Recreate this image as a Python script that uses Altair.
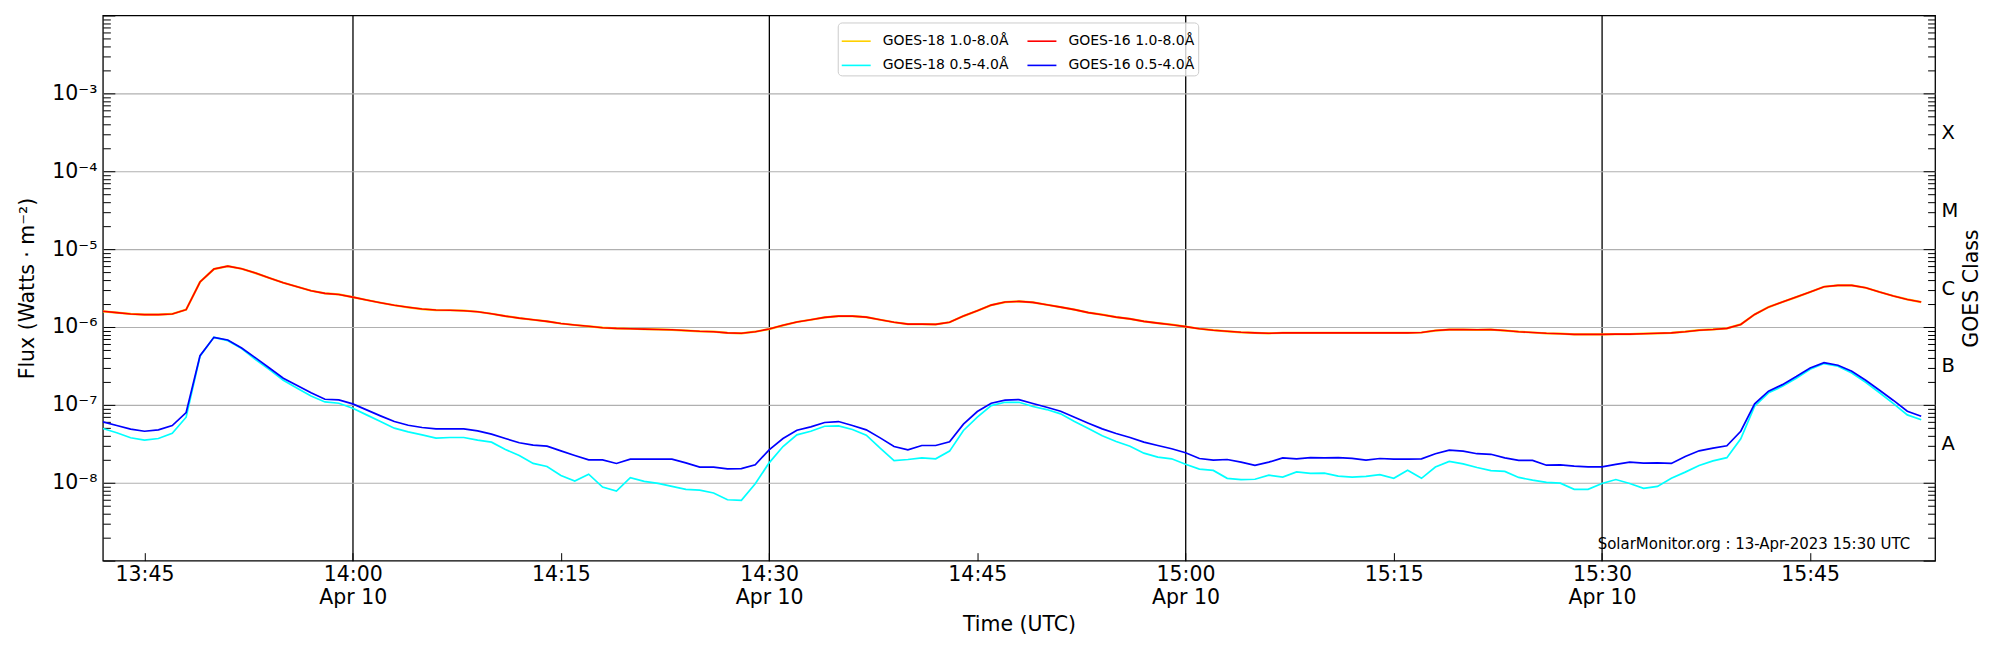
import json
import altair as alt
import pandas as pd

# ---------------- data (1-minute cadence from 13:42 UTC) ----------------
start_time = "13:42"
date_str = "2023-04-10"

goes16_long = [
    1.59e-6, 1.53e-6, 1.47e-6, 1.44e-6, 1.44e-6, 1.47e-6, 1.67e-6, 3.78e-6, 5.54e-6, 6.05e-6,
    5.60e-6, 4.92e-6, 4.25e-6, 3.70e-6, 3.29e-6, 2.92e-6, 2.70e-6, 2.62e-6, 2.42e-6, 2.22e-6,
    2.05e-6, 1.90e-6, 1.79e-6, 1.70e-6, 1.65e-6, 1.64e-6, 1.62e-6, 1.57e-6, 1.48e-6, 1.38e-6,
    1.30e-6, 1.24e-6, 1.18e-6, 1.11e-6, 1.06e-6, 1.02e-6, 9.8e-7, 9.6e-7, 9.5e-7, 9.4e-7,
    9.3e-7, 9.2e-7, 9.0e-7, 8.8e-7, 8.7e-7, 8.4e-7, 8.3e-7, 8.7e-7, 9.4e-7, 1.05e-6,
    1.16e-6, 1.24e-6, 1.33e-6, 1.38e-6, 1.38e-6, 1.34e-6, 1.24e-6, 1.15e-6, 1.09e-6, 1.09e-6,
    1.08e-6, 1.15e-6, 1.38e-6, 1.62e-6, 1.91e-6, 2.09e-6, 2.13e-6, 2.07e-6, 1.93e-6, 1.80e-6,
    1.67e-6, 1.53e-6, 1.44e-6, 1.34e-6, 1.27e-6, 1.18e-6, 1.12e-6, 1.07e-6, 1.01e-6, 9.5e-7,
    9.1e-7, 8.8e-7, 8.55e-7, 8.4e-7, 8.3e-7, 8.4e-7, 8.4e-7, 8.4e-7, 8.4e-7, 8.4e-7,
    8.4e-7, 8.4e-7, 8.4e-7, 8.4e-7, 8.4e-7, 8.5e-7, 9.0e-7, 9.25e-7, 9.25e-7, 9.2e-7,
    9.25e-7, 9.0e-7, 8.7e-7, 8.5e-7, 8.3e-7, 8.2e-7, 8.05e-7, 8.05e-7, 8.05e-7, 8.1e-7,
    8.1e-7, 8.2e-7, 8.3e-7, 8.4e-7, 8.7e-7, 9.1e-7, 9.3e-7, 9.6e-7, 1.08e-6, 1.45e-6,
    1.80e-6, 2.09e-6, 2.42e-6, 2.81e-6, 3.29e-6, 3.42e-6, 3.42e-6, 3.19e-6, 2.81e-6, 2.50e-6,
    2.26e-6, 2.09e-6,
]
# GOES-18 1-8 A lies under the GOES-16 1-8 A curve in the picture
goes18_long = list(goes16_long)

goes16_short = [
    6.05e-8, 5.43e-8, 4.88e-8, 4.59e-8, 4.78e-8, 5.43e-8, 7.97e-8, 4.28e-7, 7.37e-7, 6.81e-7,
    5.38e-7, 4.01e-7, 2.98e-7, 2.20e-7, 1.77e-7, 1.43e-7, 1.18e-7, 1.16e-7, 1.03e-7, 8.63e-8,
    7.23e-8, 6.11e-8, 5.48e-8, 5.12e-8, 4.92e-8, 4.92e-8, 4.92e-8, 4.64e-8, 4.21e-8, 3.70e-8,
    3.26e-8, 3.04e-8, 2.95e-8, 2.57e-8, 2.24e-8, 1.97e-8, 1.97e-8, 1.77e-8, 2.01e-8, 2.01e-8,
    2.01e-8, 2.01e-8, 1.80e-8, 1.59e-8, 1.59e-8, 1.51e-8, 1.52e-8, 1.70e-8, 2.65e-8, 3.70e-8,
    4.73e-8, 5.22e-8, 5.94e-8, 6.11e-8, 5.43e-8, 4.78e-8, 3.77e-8, 2.92e-8, 2.65e-8, 3.01e-8,
    3.01e-8, 3.36e-8, 5.65e-8, 8.22e-8, 1.05e-7, 1.15e-7, 1.17e-7, 1.04e-7, 9.33e-8, 8.29e-8,
    6.95e-8, 5.82e-8, 4.92e-8, 4.29e-8, 3.81e-8, 3.32e-8, 3.01e-8, 2.73e-8, 2.43e-8, 2.05e-8,
    1.95e-8, 1.99e-8, 1.84e-8, 1.67e-8, 1.84e-8, 2.09e-8, 2.03e-8, 2.10e-8, 2.09e-8, 2.10e-8,
    2.06e-8, 1.95e-8, 2.05e-8, 2.01e-8, 2.01e-8, 2.03e-8, 2.36e-8, 2.62e-8, 2.55e-8, 2.36e-8,
    2.32e-8, 2.09e-8, 1.94e-8, 1.94e-8, 1.68e-8, 1.70e-8, 1.64e-8, 1.60e-8, 1.60e-8, 1.72e-8,
    1.84e-8, 1.79e-8, 1.80e-8, 1.77e-8, 2.18e-8, 2.57e-8, 2.78e-8, 2.98e-8, 4.59e-8, 1.03e-7,
    1.50e-7, 1.82e-7, 2.31e-7, 2.98e-7, 3.49e-7, 3.23e-7, 2.70e-7, 2.07e-7, 1.54e-7, 1.14e-7,
    8.29e-8, 7.16e-8,
]

goes18_short = [
    4.98e-8, 4.38e-8, 3.78e-8, 3.52e-8, 3.70e-8, 4.33e-8, 6.95e-8, 4.21e-7, 7.37e-7, 6.68e-7,
    5.28e-7, 3.81e-7, 2.84e-7, 2.07e-7, 1.64e-7, 1.30e-7, 1.09e-7, 1.05e-7, 9.06e-8, 7.44e-8,
    6.11e-8, 5.02e-8, 4.51e-8, 4.12e-8, 3.74e-8, 3.81e-8, 3.81e-8, 3.52e-8, 3.32e-8, 2.67e-8,
    2.24e-8, 1.77e-8, 1.62e-8, 1.24e-8, 1.05e-8, 1.29e-8, 8.80e-9, 7.81e-9, 1.16e-8, 1.04e-8,
    9.80e-9, 8.97e-9, 8.22e-9, 8.05e-9, 7.38e-9, 6.05e-9, 5.94e-9, 9.71e-9, 1.80e-8, 2.92e-8,
    4.12e-8, 4.59e-8, 5.32e-8, 5.38e-8, 4.83e-8, 4.08e-8, 2.78e-8, 1.93e-8, 1.99e-8, 2.09e-8,
    2.03e-8, 2.55e-8, 4.69e-8, 6.95e-8, 9.80e-8, 1.08e-7, 1.08e-7, 9.52e-8, 8.71e-8, 7.67e-8,
    6.11e-8, 4.98e-8, 4.01e-8, 3.39e-8, 2.95e-8, 2.40e-8, 2.13e-8, 2.03e-8, 1.73e-8, 1.50e-8,
    1.44e-8, 1.14e-8, 1.10e-8, 1.11e-8, 1.25e-8, 1.18e-8, 1.38e-8, 1.32e-8, 1.33e-8, 1.22e-8,
    1.18e-8, 1.21e-8, 1.27e-8, 1.14e-8, 1.45e-8, 1.14e-8, 1.59e-8, 1.88e-8, 1.75e-8, 1.57e-8,
    1.43e-8, 1.40e-8, 1.17e-8, 1.08e-8, 1.01e-8, 9.9e-9, 8.22e-9, 8.22e-9, 9.80e-9, 1.10e-8,
    9.80e-9, 8.46e-9, 8.97e-9, 1.14e-8, 1.37e-8, 1.67e-8, 1.91e-8, 2.10e-8, 3.66e-8, 9.61e-8,
    1.43e-7, 1.73e-7, 2.20e-7, 2.86e-7, 3.39e-7, 3.13e-7, 2.57e-7, 1.95e-7, 1.43e-7, 1.04e-7,
    7.44e-8, 6.43e-8,
]

# legend order (column-wise): GOES-18 entries in the first column, GOES-16 in the second
series_names = ["GOES-18 1.0-8.0Å", "GOES-18 0.5-4.0Å", "GOES-16 1.0-8.0Å", "GOES-16 0.5-4.0Å"]
series_colors = ["#ffd000", "#00ffff", "#ff0000", "#0000ff"]

tick_times = ["13:45", "14:00", "14:15", "14:30", "14:45", "15:00", "15:15", "15:30", "15:45"]
marked_times = ["14:00", "14:30", "15:00", "15:30"]
date_label = "Apr 10"
x_domain_times = ["13:42", "15:54"]

y_tick_labels = ["10⁻⁸", "10⁻⁷", "10⁻⁶", "10⁻⁵", "10⁻⁴", "10⁻³"]
class_labels = ["A", "B", "C", "M", "X"]
y_domain = [1e-9, 1e-2]

y_title = "Flux (Watts · m⁻²)"
x_title = "Time (UTC)"
right_title = "GOES Class"
annotation = "SolarMonitor.org : 13-Apr-2023 15:30 UTC"

# ---------------- table ----------------
h0, m0 = map(int, start_time.split(":"))


def iso(i):
    t = h0 * 60 + m0 + i
    return f"{date_str}T{t // 60:02d}:{t % 60:02d}:00Z"


series_values = {
    "GOES-18 1.0-8.0Å": goes18_long,
    "GOES-18 0.5-4.0Å": goes18_short,
    "GOES-16 1.0-8.0Å": goes16_long,
    "GOES-16 0.5-4.0Å": goes16_short,
}
rows = []
for name, vals in series_values.items():
    for i, v in enumerate(vals):
        rows.append({"time": iso(i), "flux": v, "series": name})
df = pd.DataFrame(rows)


def dt(hhmm):
    h, m = map(int, hhmm.split(":"))
    return alt.DateTime(year=2023, month=4, date=10, hours=h, minutes=m, utc=True)


W, H = 1835, 546
FONT = "DejaVu Sans"

xscale = alt.Scale(type="utc", domain=[dt(t) for t in x_domain_times], nice=False)
yscale = alt.Scale(type="log", domain=y_domain, nice=False)
cscale = alt.Scale(domain=series_names, range=series_colors)

decades = [10.0 ** e for e in range(-8, -2)]
all_decades = [10.0 ** e for e in range(-9, -1)]
minors = [m * 10.0 ** e for e in range(-9, -2) for m in range(2, 10)]
class_vals = [10.0 ** (e + 0.5) for e in range(-8, -3)]

label_expr_x = (
    "utcminutes(datum.value) % 30 === 0 ? "
    f"[utcFormat(datum.value, '%H:%M'), '{date_label}'] : utcFormat(datum.value, '%H:%M')"
)
label_expr_y = json.dumps(y_tick_labels, ensure_ascii=False) + "[round(log(datum.value)/LN10) + 8]"
label_expr_cls = json.dumps(class_labels, ensure_ascii=False) + "[round(log(datum.value)/LN10 + 7.5)]"

# ---------------- axes ----------------
x_main = alt.Axis(orient="bottom", values=[dt(t) for t in tick_times], labelExpr=label_expr_x,
                  title=x_title, ticks=False, domain=False, grid=False, labelFontSize=20.5,
                  labelPadding=4, labelLineHeight=23, labelFlush=False, labelOverlap=False,
                  labelBound=False, titleFontSize=20.5, titleX=W / 2, titleY=64,
                  titleAlign="center", titleBaseline="middle")
x_grid = alt.Axis(orient="bottom", values=[dt(t) for t in marked_times], labels=False,
                  ticks=False, domain=False, grid=True, gridColor="black", gridWidth=1.3,
                  gridOpacity=1, title=None)
x_ticks = alt.Axis(orient="bottom", values=[dt(t) for t in tick_times], labels=False,
                   ticks=True, tickSize=8, tickColor="black", tickWidth=1, domain=False,
                   grid=False, offset=-8, title=None)

y_main = alt.Axis(orient="left", values=decades, labelExpr=label_expr_y, title=y_title,
                  ticks=False, domain=False, grid=True, gridColor="#b0b0b0", gridWidth=1.2,
                  gridOpacity=1, labelFontSize=20.5, labelPadding=6, labelOverlap=False,
                  labelFlush=False, titleFontSize=20.5, titleAngle=270, titleX=-75,
                  titleY=H / 2, titleAlign="center", titleBaseline="middle")
y_minor_l = alt.Axis(orient="left", values=minors, labels=False, ticks=True, tickSize=7.5,
                     tickColor="black", tickWidth=1, domain=False, grid=False, offset=-7.5,
                     title=None)
y_major_l = alt.Axis(orient="left", values=all_decades, labels=False, ticks=True, tickSize=12,
                     tickColor="black", tickWidth=1, domain=False, grid=False, offset=-12,
                     title=None)
y_class = alt.Axis(orient="right", values=class_vals, labelExpr=label_expr_cls, title=right_title,
                   ticks=False, domain=False, grid=False, labelFontSize=19.5, labelPadding=6,
                   labelOverlap=False, labelFlush=False, titleFontSize=20.5, titleAngle=270,
                   titleX=36, titleY=H / 2, titleAlign="center", titleBaseline="middle")
y_minor_r = alt.Axis(orient="right", values=minors, labels=False, ticks=True, tickSize=7.5,
                     tickColor="black", tickWidth=1, domain=False, grid=False, offset=-7.5,
                     title=None)
y_major_r = alt.Axis(orient="right", values=all_decades, labels=False, ticks=True, tickSize=12,
                     tickColor="black", tickWidth=1, domain=False, grid=False, offset=-12,
                     title=None)

legend = alt.Legend(orient="none", legendX=736, legendY=7, columns=2, title=None,
                    symbolType="stroke", symbolSize=841, symbolStrokeWidth=1.6,
                    labelFontSize=14, labelFont=FONT, labelColor="black", labelOffset=11,
                    columnPadding=14, rowPadding=1.5, padding=3, strokeColor="#cccccc",
                    fillColor="rgba(255,255,255,0.8)", cornerRadius=4, labelLimit=0)


def series_layer(name, width, xaxis, yaxis):
    return alt.Chart(df).transform_filter(alt.datum.series == name).mark_line(
        strokeWidth=width, clip=True
    ).encode(
        x=alt.X("time:T", scale=xscale, axis=xaxis),
        y=alt.Y("flux:Q", scale=yscale, axis=yaxis),
        color=alt.Color("series:N", scale=cscale, legend=legend),
    )


def axis_layer(xaxis, yaxis):
    return alt.Chart(df).mark_point(opacity=0, size=1).encode(
        x=alt.X("time:T", scale=xscale, axis=xaxis),
        y=alt.Y("flux:Q", scale=yscale, axis=yaxis),
    )


text_layer = alt.Chart(pd.DataFrame({"label": [annotation]})).mark_text(
    align="right", baseline="alphabetic", fontSize=15, font=FONT, color="black"
).encode(x=alt.value(W - 25), y=alt.value(H - 12), text="label:N")

chart = alt.layer(
    series_layer("GOES-18 1.0-8.0Å", 2.2, x_main, y_main),
    series_layer("GOES-18 0.5-4.0Å", 1.7, x_grid, y_minor_l),
    series_layer("GOES-16 1.0-8.0Å", 1.6, x_ticks, y_major_l),
    series_layer("GOES-16 0.5-4.0Å", 1.7, None, y_class),
    axis_layer(None, y_minor_r),
    axis_layer(None, y_major_r),
    text_layer,
).resolve_axis(
    x="independent", y="independent"
).properties(
    width=W, height=H,
    autosize=alt.AutoSizeParams(type="none"),
    padding={"left": 95, "top": 7, "right": 57, "bottom": 84},
).configure_view(
    stroke="black", strokeWidth=1.3
).configure_axis(
    labelFont=FONT, titleFont=FONT, labelColor="black", titleColor="black",
    titleFontWeight="normal"
)

chart.save("out.html", embed_options={"renderer": "svg", "actions": False})
